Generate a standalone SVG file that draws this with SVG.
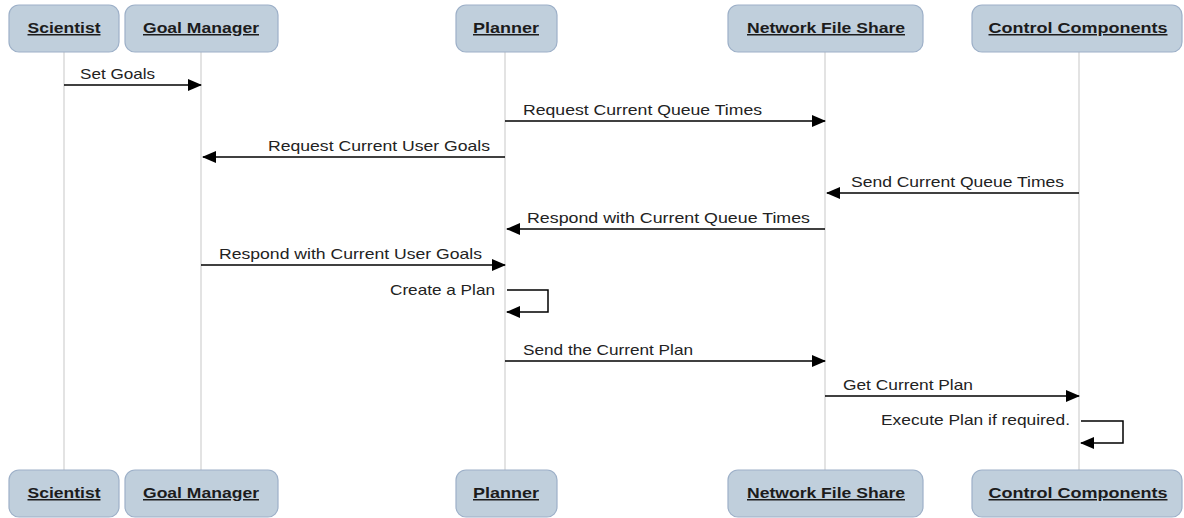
<svg xmlns="http://www.w3.org/2000/svg" width="1184" height="518" viewBox="0 0 1184 518">
<style>
.box{fill:#c0cfdc;stroke:#9db0c8;stroke-width:1.2}
.hd{font-family:"Liberation Sans",Arial,sans-serif;font-size:15px;font-weight:bold;fill:#1c1c1c;text-decoration:underline;text-anchor:middle}
.life{stroke:#d0d0d0;stroke-width:1.2;fill:none}
.msg{stroke:#000;stroke-width:1.5;fill:none}
.lbl{font-family:"Liberation Sans",Arial,sans-serif;font-size:15px;fill:#222}
</style>
<defs>
<marker id="ah" viewBox="0 0 14 12" refX="13" refY="6" markerWidth="14" markerHeight="12" markerUnits="userSpaceOnUse" orient="auto">
<path d="M0,0 L14,6 L0,12 z" fill="#000"/>
</marker>
</defs>
<rect width="1184" height="518" fill="#fff"/>
<g id="lifelines">
<line class="life" x1="64" y1="52" x2="64" y2="470"/>
<line class="life" x1="201" y1="52" x2="201" y2="470"/>
<line class="life" x1="505" y1="52" x2="505" y2="470"/>
<line class="life" x1="825" y1="52" x2="825" y2="470"/>
<line class="life" x1="1079" y1="52" x2="1079" y2="470"/>
</g>
<g id="scientist">
<rect class="box" x="9" y="5" width="110" height="47" rx="10"/>
<text class="hd" x="64" y="33" textLength="73" lengthAdjust="spacingAndGlyphs">Scientist</text>
<rect class="box" x="9" y="470" width="110" height="47" rx="10"/>
<text class="hd" x="64" y="498" textLength="73" lengthAdjust="spacingAndGlyphs">Scientist</text>
</g>
<g id="goal-manager">
<rect class="box" x="125" y="5" width="153" height="47" rx="10"/>
<text class="hd" x="201" y="33" textLength="116" lengthAdjust="spacingAndGlyphs">Goal Manager</text>
<rect class="box" x="125" y="470" width="153" height="47" rx="10"/>
<text class="hd" x="201" y="498" textLength="116" lengthAdjust="spacingAndGlyphs">Goal Manager</text>
</g>
<g id="planner">
<rect class="box" x="456" y="5" width="101" height="47" rx="10"/>
<text class="hd" x="506" y="33" textLength="66" lengthAdjust="spacingAndGlyphs">Planner</text>
<rect class="box" x="456" y="470" width="101" height="47" rx="10"/>
<text class="hd" x="506" y="498" textLength="66" lengthAdjust="spacingAndGlyphs">Planner</text>
</g>
<g id="network-file-share">
<rect class="box" x="728" y="5" width="195" height="47" rx="10"/>
<text class="hd" x="826" y="33" textLength="158" lengthAdjust="spacingAndGlyphs">Network File Share</text>
<rect class="box" x="728" y="470" width="195" height="47" rx="10"/>
<text class="hd" x="826" y="498" textLength="158" lengthAdjust="spacingAndGlyphs">Network File Share</text>
</g>
<g id="control-components">
<rect class="box" x="972" y="5" width="210" height="47" rx="10"/>
<text class="hd" x="1078" y="33" textLength="179" lengthAdjust="spacingAndGlyphs">Control Components</text>
<rect class="box" x="972" y="470" width="210" height="47" rx="10"/>
<text class="hd" x="1078" y="498" textLength="179" lengthAdjust="spacingAndGlyphs">Control Components</text>
</g>
<g id="connectors">
<line class="msg" x1="64" y1="85" x2="201" y2="85" marker-end="url(#ah)"/>
<line class="msg" x1="505" y1="121" x2="825" y2="121" marker-end="url(#ah)"/>
<line class="msg" x1="505" y1="157" x2="203" y2="157" marker-end="url(#ah)"/>
<line class="msg" x1="1079" y1="193" x2="827" y2="193" marker-end="url(#ah)"/>
<line class="msg" x1="825" y1="229" x2="507" y2="229" marker-end="url(#ah)"/>
<line class="msg" x1="201" y1="265" x2="505" y2="265" marker-end="url(#ah)"/>
<polyline class="msg" points="507,290 548,290 548,312 507,312" marker-end="url(#ah)"/>
<line class="msg" x1="505" y1="361" x2="825" y2="361" marker-end="url(#ah)"/>
<line class="msg" x1="825" y1="396" x2="1079" y2="396" marker-end="url(#ah)"/>
<polyline class="msg" points="1081,421 1123,421 1123,443 1081,443" marker-end="url(#ah)"/>
</g>
<g id="labels">
<text class="lbl" x="80" y="79" textLength="75" lengthAdjust="spacingAndGlyphs">Set Goals</text>
<text class="lbl" x="523" y="115" textLength="239" lengthAdjust="spacingAndGlyphs">Request Current Queue Times</text>
<text class="lbl" x="268" y="151" textLength="222" lengthAdjust="spacingAndGlyphs">Request Current User Goals</text>
<text class="lbl" x="851" y="187" textLength="213" lengthAdjust="spacingAndGlyphs">Send Current Queue Times</text>
<text class="lbl" x="527" y="223" textLength="283" lengthAdjust="spacingAndGlyphs">Respond with Current Queue Times</text>
<text class="lbl" x="219" y="259" textLength="263" lengthAdjust="spacingAndGlyphs">Respond with Current User Goals</text>
<text class="lbl" x="390" y="295" textLength="105" lengthAdjust="spacingAndGlyphs">Create a Plan</text>
<text class="lbl" x="523" y="355" textLength="170" lengthAdjust="spacingAndGlyphs">Send the Current Plan</text>
<text class="lbl" x="843" y="390" textLength="130" lengthAdjust="spacingAndGlyphs">Get Current Plan</text>
<text class="lbl" x="881" y="425" textLength="189" lengthAdjust="spacingAndGlyphs">Execute Plan if required.</text>
</g>
</svg>
